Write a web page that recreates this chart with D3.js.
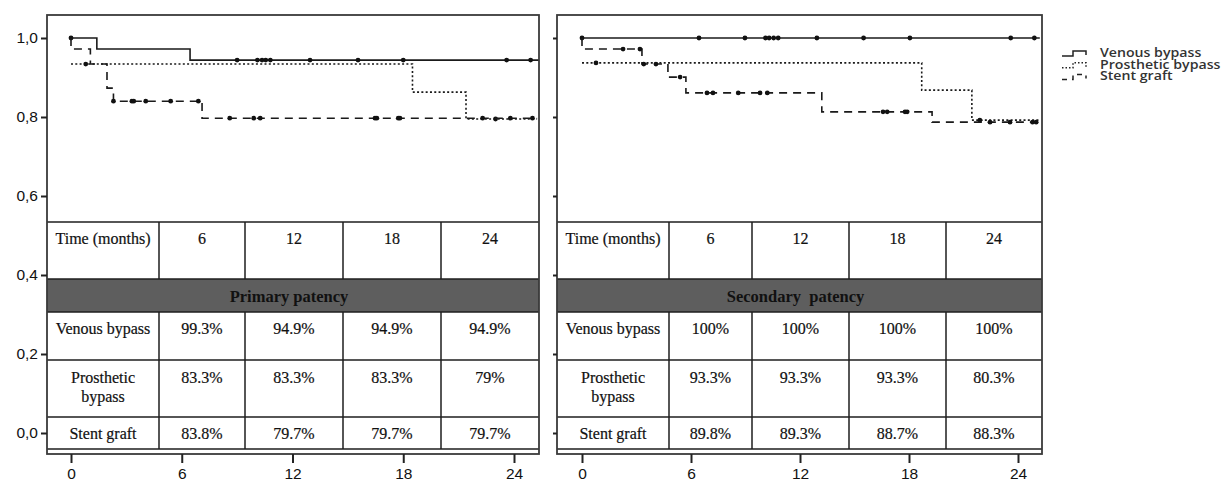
<!DOCTYPE html>
<html><head><meta charset="utf-8">
<script src="https://cdn.jsdelivr.net/npm/d3@7"></script>
<style>
body{margin:0;background:#fff}svg{display:block}
.serif{font-family:"Liberation Serif","Times New Roman",Tinos,"DejaVu Serif",serif}
.sans{font-family:"Liberation Sans",Arial,Arimo,sans-serif}
.leg{font-family:"Open Sans",sans-serif}
</style>
</head><body>
<svg id="c" width="1223" height="484"></svg>
<script>
// ---------- data ----------
const xTicks = [0, 6, 12, 18, 24];
const yTicks = [0, 0.2, 0.4, 0.6, 0.8, 1.0];
const tableMonths = [6, 12, 18, 24];
const groups = ["Venous bypass", "Prosthetic bypass", "Stent graft"];

// Kaplan-Meier steps: [month, survival]
const primaryVenous = [[0,1],[1.4,0.972],[6.45,0.944],[25.35,0.944]];
const primaryVenousCens = [0,9.0,10.1,10.35,10.55,10.8,12.95,15.55,18.0,23.6,24.9];
const primaryProsthetic = [[0,0.934],[18.5,0.863],[21.4,0.795],[25.25,0.795]];
const primaryProstheticCens = [0.8,23.0];
const primaryStent = [[0,1],[0,0.972],[1.05,0.934],[1.95,0.873],[2.3,0.84],[7.1,0.797],[25.25,0.797]];
const primaryStentCens = [2.3,3.3,3.4,4.05,5.4,6.9,8.6,9.9,10.25,16.47,16.57,17.73,17.82,22.3,23.8,25.0];

const secondaryVenous = [[0,1],[25.2,1]];
const secondaryVenousCens = [0,6.44,8.97,10.1,10.3,10.55,10.8,12.93,15.5,18.05,23.6,24.9];
const secondaryProsthetic = [[0,0.937],[18.7,0.868],[21.46,0.792],[25.2,0.792]];
const secondaryProstheticCens = [0.77,21.9];
const secondaryStent = [[0,1],[0,0.972],[3.3,0.934],[4.73,0.901],[5.72,0.861],[13.2,0.813],[19.27,0.787],[25.2,0.787]];
const secondaryStentCens = [2.26,3.19,3.4,4.07,5.4,6.88,7.21,8.6,9.8,10.2,16.57,16.8,17.78,17.9,22.46,23.56,24.8,25.0];

const primaryTable = [
  ["99.3%","94.9%","94.9%","94.9%"],
  ["83.3%","83.3%","83.3%","79%"],
  ["83.8%","79.7%","79.7%","79.7%"]
];
const secondaryTable = [
  ["100%","100%","100%","100%"],
  ["93.3%","93.3%","93.3%","80.3%"],
  ["89.8%","89.3%","88.7%","88.3%"]
];

// ---------- layout ----------
const svg = d3.select("#c");
const frameTop = 15, frameBottom = 454;
const y = d3.scaleLinear().domain([0,1]).range([433,38]);
const rowsY = [222, 279, 312, 360, 417, 449]; // table row boundaries

const panels = [
  {x0:47, x1:539, range:[71,514], labels:true, title:"Primary patency", table:primaryTable, cols:[47,159,245,343,441,539],
   curves:[{pts:primaryVenous,cens:primaryVenousCens,dash:null},
           {pts:primaryProsthetic,cens:primaryProstheticCens,dash:"2,2.3"},
           {pts:primaryStent,cens:primaryStentCens,dash:"8,6"}]},
  {x0:557, x1:1042, range:[582,1018], labels:false, title:"Secondary  patency", table:secondaryTable, cols:[557,669,752,849,946,1042],
   curves:[{pts:secondaryVenous,cens:secondaryVenousCens,dash:null},
           {pts:secondaryProsthetic,cens:secondaryProstheticCens,dash:"2,2.3"},
           {pts:secondaryStent,cens:secondaryStentCens,dash:"8,6"}]}
];

const fmtY = d => d3.format(".1f")(d).replace(".", ",");

panels.forEach(p => {
  const x = d3.scaleLinear().domain([0,24]).range(p.range);
  const g = svg.append("g");

  // curves
  const line = d3.line().curve(d3.curveStepAfter).x(d => x(d[0])).y(d => y(d[1]));
  p.curves.forEach(c => {
    g.append("path").attr("d", line(c.pts)).attr("fill","none")
      .attr("stroke","#1a1a1a").attr("stroke-width",1.6)
      .attr("stroke-dasharray", c.dash);
    const bis = d3.bisector(d => d[0]).right;
    const valAt = t => c.pts[Math.max(0, bis(c.pts, t) - 1)][1];
    g.selectAll(null).data(c.cens).join("circle")
      .attr("cx", d => x(d)).attr("cy", d => y(valAt(d))).attr("r", 2.4).attr("fill","#111");
  });

  // table
  const tg = g.append("g");
  const W = p.x1 - p.x0;
  tg.append("rect").attr("x",p.x0).attr("y",rowsY[0]).attr("width",W).attr("height",rowsY[5]-rowsY[0]).attr("fill","#fff");
  tg.append("rect").attr("x",p.x0).attr("y",rowsY[1]).attr("width",W).attr("height",rowsY[2]-rowsY[1]).attr("fill","#5e5e5e");
  rowsY.forEach(ry => tg.append("line").attr("x1",p.x0).attr("x2",p.x1).attr("y1",ry).attr("y2",ry)
      .attr("stroke","#1e1e1e").attr("stroke-width",1.5));
  p.cols.slice(1,-1).forEach(cx => {
    [[rowsY[0],rowsY[1]],[rowsY[2],rowsY[5]]].forEach(s =>
      tg.append("line").attr("x1",cx).attr("x2",cx).attr("y1",s[0]).attr("y2",s[1])
        .attr("stroke","#1e1e1e").attr("stroke-width",1.5));
  });
  const cell = (cx, cy, txt) => tg.append("text").attr("class","serif").attr("x",cx).attr("y",cy)
      .attr("text-anchor","middle").attr("dominant-baseline","central")
      .attr("font-size",16).attr("fill","#111").attr("stroke","#111").attr("stroke-width",0.2)
      .style("white-space","pre").text(txt);
  const colC = i => (p.cols[i] + p.cols[i+1]) / 2;
  cell(colC(0), rowsY[0]+16, "Time (months)");
  tableMonths.forEach((m,i) => cell(colC(i+1), rowsY[0]+16, String(m)));
  tg.append("text").attr("class","serif").attr("x",(p.x0+p.x1)/2 - 4).attr("y",(rowsY[1]+rowsY[2])/2+1)
    .attr("text-anchor","middle").attr("dominant-baseline","central")
    .attr("font-size",16.5).attr("font-weight","bold")
    .attr("fill","#111").style("white-space","pre").text(p.title);
  cell(colC(0), rowsY[2]+16, groups[0]);
  cell(colC(0), rowsY[3]+17, "Prosthetic");
  cell(colC(0), rowsY[3]+36, "bypass");
  cell(colC(0), rowsY[4]+16, groups[2]);
  p.table.forEach((row, r) => row.forEach((v, i) =>
    cell(colC(i+1), rowsY[r+2] + (r===1 ? 17 : 16), v)));

  // frame
  g.append("rect").attr("x",p.x0).attr("y",frameTop).attr("width",W).attr("height",frameBottom-frameTop)
    .attr("fill","none").attr("stroke","#3a3a3a").attr("stroke-width",1.8);

  // x axis ticks & labels
  const xa = g.append("g").attr("transform",`translate(0,${frameBottom})`)
    .call(d3.axisBottom(x).tickValues(xTicks).tickSize(9).tickPadding(5).tickFormat(d3.format("d")));
  xa.attr("font-family", null);
  xa.select(".domain").remove();
  xa.selectAll(".tick line").attr("stroke","#222").attr("stroke-width",2);
  xa.selectAll("text").attr("class","sans").attr("font-size",15.5).attr("fill","#111");

  // y axis ticks
  const ya = g.append("g").attr("transform",`translate(${p.x0},0)`)
    .call(d3.axisLeft(y).tickValues(yTicks).tickSize(p.labels ? 6 : 4).tickPadding(3)
      .tickFormat(p.labels ? fmtY : () => ""));
  ya.attr("font-family", null);
  ya.select(".domain").remove();
  ya.selectAll(".tick line").attr("stroke","#222").attr("stroke-width",2);
  ya.selectAll("text").attr("class","sans").attr("font-size",15.5).attr("fill","#111");
});

// legend
const lg = svg.append("g");
const legendDash = [null, "1.5,2", "5,5"];
groups.forEach((name, i) => {
  const ly = 56 + i * 11.7;
  lg.append("path")
    .attr("d", `M1062,${ly} H1073 V${ly-5} H1086 V${ly-1}`)
    .attr("fill","none").attr("stroke","#222").attr("stroke-width",1.5)
    .attr("stroke-dasharray", legendDash[i]);
  lg.append("text").attr("class","leg")
    .attr("transform", `translate(1100,${ly+1}) scale(1.18,1)`)
    .attr("font-size",12).attr("font-weight",600)
    .attr("fill","#333").text(name);
});
</script>
</body></html>
